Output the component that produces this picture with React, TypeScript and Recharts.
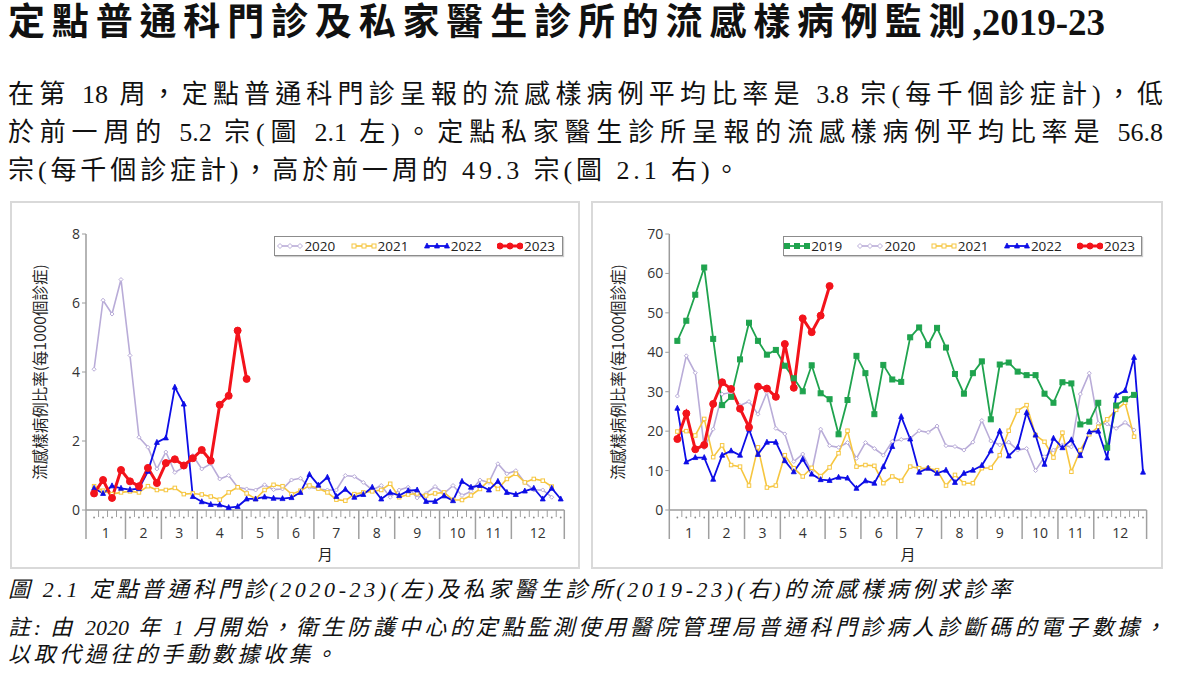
import React from 'react';
import { LineChart, Line, XAxis, YAxis } from 'recharts';

// ---------- categories / ticks ----------
const weeks = [1,2,3,4,5,6,7,8,9,10,11,12,13,14,15,16,17,18,19,20,21,22,23,24,25,26,27,28,29,30,31,32,33,34,35,36,37,38,39,40,41,42,43,44,45,46,47,48,49,50,51,52,53];
const monthLabels = ['1','2','3','4','5','6','7','8','9','10','11','12'];
const monthBounds = [0.1, 4.5, 8.5, 12.5, 17.5, 21.5, 25.5, 30.5, 34.5, 39.5, 43.5, 47.5, 53.4];
const gopYTicks = [0, 2, 4, 6, 8];
const pmpYTicks = [0, 10, 20, 30, 40, 50, 60, 70];

// ---------- GOPC (left) ----------
const gop2020 = [4.08,6.08,5.68,6.68,4.48,2.11,1.82,1.19,1.68,1.09,1.24,1.58,1.19,1.34,0.90,1.00,0.66,0.61,0.58,0.73,0.59,0.61,0.87,0.92,0.66,0.61,0.58,0.58,1.00,0.97,0.80,0.58,0.71,0.37,0.58,0.66,0.35,0.48,0.68,0.48,0.71,0.42,0.54,0.87,0.80,1.34,1.05,1.14,0.80,0.58,0.58,0.37];
const gop2021 = [0.69,0.56,0.46,0.51,0.54,0.51,0.69,0.58,0.58,0.64,0.46,0.48,0.45,0.39,0.30,0.51,0.66,0.48,0.32,0.58,0.73,0.69,0.46,0.56,0.71,0.62,0.51,0.30,0.27,0.46,0.51,0.54,0.58,0.76,0.37,0.45,0.48,0.42,0.48,0.51,0.29,0.29,0.42,0.61,0.85,0.61,0.90,1.05,0.80,0.90,0.85,0.68];
const gop2022 = [0.63,0.48,0.70,0.63,0.59,0.62,1.12,1.96,2.09,3.56,3.07,0.39,0.24,0.16,0.15,0.07,0.10,0.32,0.32,0.38,0.34,0.33,0.36,0.51,1.03,0.72,0.95,0.39,0.60,0.37,0.45,0.66,0.32,0.51,0.42,0.56,0.58,0.25,0.25,0.41,0.27,0.83,0.66,0.71,0.58,0.83,0.51,0.45,0.55,0.63,0.32,0.63,0.32];
const gop2023 = [0.48,0.87,0.35,1.16,0.83,0.69,1.22,0.78,1.36,1.47,1.29,1.50,1.74,1.43,3.05,3.31,5.2,3.8];

// ---------- Private medical practitioners (right) ----------
const pmp2019 = [42.9,48.0,54.6,61.5,43.4,26.6,28.7,38.2,47.5,42.9,39.4,40.6,36.6,33.4,30.1,36.7,29.6,28.1,19.2,27.9,39.1,34.7,24.3,36.8,33.1,32.5,43.8,46.3,41.8,46.2,41.2,34.5,29.5,34.7,37.7,23.0,36.9,37.4,35.1,34.2,34.2,29.5,27.2,32.4,32.1,21.7,22.4,27.2,15.8,26.5,28.1,29.2];
const pmp2020 = [28.9,39.1,34.8,15.8,20.5,29.4,29.8,26.5,27.5,24.3,29.8,20.7,19.3,12.3,14.2,9.7,20.5,16.3,15.9,17.1,13.1,17.1,15.6,13.9,17.4,17.9,18.2,20.1,19.7,21.3,16.3,16.1,15.2,17.2,22.7,17.5,16.5,17.2,15.2,15.6,10.0,13.5,15.2,16.5,16.0,29.4,34.7,22.0,21.8,20.7,22.2,20.3];
const pmp2021 = [19.9,20.0,18.9,23.1,13.4,16.4,11.4,11.0,6.2,15.9,5.7,6.2,13.9,10.6,8.5,10.7,8.6,10.8,14.4,20.1,11.0,11.4,11.2,6.8,8.5,7.4,11.0,10.6,10.6,10.1,6.2,8.9,6.8,6.8,10.6,10.7,13.9,20.1,25.2,26.6,19.0,17.3,13.3,19.6,9.7,15.2,19.2,21.1,23.0,25.4,27.2,18.6];
const pmp2022 = [25.8,12.2,13.3,13.3,7.8,13.9,15.0,13.9,20.5,14.1,17.2,17.2,12.5,9.7,12.9,9.1,7.7,7.5,8.3,8.1,5.5,7.4,6.8,11.0,16.1,23.7,18.0,9.6,10.6,9.3,10.1,7.0,9.3,10.1,11.3,15.0,20.0,13.7,15.9,24.7,19.0,11.6,18.2,15.8,17.8,13.8,19.8,20.0,13.2,29.0,30.3,38.7,9.6];
const pmp2023 = [18.0,24.5,15.4,16.5,26.9,32.4,30.7,25.7,21.0,31.3,30.8,28.7,42.1,31.0,48.6,45.1,49.3,56.8];

// ---------- texts ----------
const titleText = '定點普通科門診及私家醫生診所的流感樣病例監測,2019-23';
const paraLines = [
  '在第 18 周，定點普通科門診呈報的流感樣病例平均比率是 3.8 宗(每千個診症計)，低',
  '於前一周的 5.2 宗(圖 2.1 左)。定點私家醫生診所呈報的流感樣病例平均比率是 56.8',
  '宗(每千個診症計)，高於前一周的 49.3 宗(圖 2.1 右)。',
];
const captionText = '圖 2.1 定點普通科門診(2020-23)(左)及私家醫生診所(2019-23)(右)的流感樣病例求診率';
const noteLines = [
  '註: 由 2020 年 1 月開始，衛生防護中心的定點監測使用醫院管理局普通科門診病人診斷碼的電子數據，',
  '以取代過往的手動數據收集。',
];
const yLabel = '流感樣病例比率(每1000個診症)';
const xLabel = '月';

// ---------- styles ----------
const cjk = '"Noto Sans CJK TC", "Noto Sans CJK SC", sans-serif';
const bodyFont = '"Liberation Serif", "Noto Sans CJK TC", "Noto Sans CJK SC", serif';
const latin = '"Open Sans", "DejaVu Sans", sans-serif';
type Shape = 'square' | 'diamond' | 'triangle' | 'circle';
const yearStyle: Record<string, { color: string; width: number; shape: Shape; size: number; filled: boolean }> = {
  '2019': { color: '#1fa34e', width: 1.8, shape: 'square', size: 5, filled: true },
  '2020': { color: '#b9acd8', width: 1.6, shape: 'diamond', size: 3, filled: false },
  '2021': { color: '#f6c640', width: 1.6, shape: 'square', size: 3.5, filled: false },
  '2022': { color: '#0d0de6', width: 1.8, shape: 'triangle', size: 5, filled: true },
  '2023': { color: '#f3131b', width: 3, shape: 'circle', size: 7, filled: true },
};

function markerEl(shape: Shape, cx: number, cy: number, size: number, color: string, filled: boolean, key?: any) {
  const fill = filled ? color : '#ffffff';
  const h = size / 2;
  if (shape === 'square') return <rect key={key} x={cx - h} y={cy - h} width={size} height={size} fill={fill} stroke={color} strokeWidth={1} />;
  if (shape === 'diamond') return <polygon key={key} points={`${cx},${cy - h - 0.5} ${cx + h + 0.5},${cy} ${cx},${cy + h + 0.5} ${cx - h - 0.5},${cy}`} fill={fill} stroke={color} strokeWidth={1} />;
  if (shape === 'triangle') return <polygon key={key} points={`${cx},${cy - h - 0.5} ${cx + h},${cy + h - 0.5} ${cx - h},${cy + h - 0.5}`} fill={fill} stroke={color} strokeWidth={0.8} />;
  return <circle key={key} cx={cx} cy={cy} r={h} fill={fill} stroke={color} strokeWidth={1} />;
}

function makeDot(year: string) {
  const s = yearStyle[year];
  return (p: any) => {
    const { cx, cy, index } = p;
    if (cx == null || cy == null || Number.isNaN(cy)) return <g key={`e${index}`} />;
    return markerEl(s.shape, cx, cy, s.size, s.color, s.filled, `d${index}`);
  };
}

// ---------- x-axis tick table ----------
type TickInfo = { kind: 'dot' | 'tick' | 'sep' | 'label'; text?: string };
const tickInfo = new Map<string, TickInfo>();
const xTickValues: number[] = [];
function addTick(v: number, info: TickInfo) {
  tickInfo.set(v.toFixed(4), info);
  xTickValues.push(v);
}
weeks.forEach((w) => addTick(w, { kind: 'dot' }));
for (let i = 0; i < weeks.length - 1; i++) {
  const b = weeks[i] + 0.5;
  addTick(b, { kind: monthBounds.includes(b) ? 'sep' : 'tick' });
}
addTick(monthBounds[0], { kind: 'sep' });
addTick(monthBounds[monthBounds.length - 1], { kind: 'sep' });
monthLabels.forEach((m, i) => addTick((monthBounds[i] + monthBounds[i + 1]) / 2 + 0.0003, { kind: 'label', text: m }));

function WeekTick(props: any) {
  const { x, y, payload } = props;
  const info = tickInfo.get(Number(payload.value).toFixed(4));
  if (!info) return <g />;
  if (info.kind === 'dot') return <circle cx={x} cy={y + 7.5} r={0.9} fill="#8a8a8a" />;
  if (info.kind === 'tick') return <line x1={x} x2={x} y1={y} y2={y + 7} stroke="#a0a0a0" strokeWidth={1} />;
  if (info.kind === 'sep') return <line x1={x} x2={x} y1={y} y2={y + 29} stroke="#a0a0a0" strokeWidth={1.5} />;
  return (
    <text x={x} y={y + 27.5} textAnchor="middle" fontSize={14} fill="#333" fontFamily={latin}>
      {info.text}
    </text>
  );
}

function buildRows(series: { year: string; values: number[] }[]) {
  return weeks.map((w, i) => {
    const row: any = { week: w };
    series.forEach((s) => {
      if (i < s.values.length) row['y' + s.year] = s.values[i];
    });
    return row;
  });
}

const gopSeries = [
  { year: '2020', values: gop2020 },
  { year: '2021', values: gop2021 },
  { year: '2022', values: gop2022 },
  { year: '2023', values: gop2023 },
];
const pmpSeries = [
  { year: '2019', values: pmp2019 },
  { year: '2020', values: pmp2020 },
  { year: '2021', values: pmp2021 },
  { year: '2022', values: pmp2022 },
  { year: '2023', values: pmp2023 },
];
const pmpDrawOrder = ['2020', '2021', '2019', '2022', '2023'];

const axisStroke = { stroke: '#9c9c9c', strokeWidth: 1.5 };

function Panel(props: {
  left: number; width: number; series: { year: string; values: number[] }[]; order: string[];
  yMax: number; yTicks: number[]; marginLeft: number; marginRight: number; labelOffset: number;
}) {
  const { left, width, series, order, yMax, yTicks, marginLeft, marginRight, labelOffset } = props;
  const rows = buildRows(series);
  return (
    <>
      <div style={{ position: 'absolute', left, top: 201, width, height: 368, boxSizing: 'border-box', border: '2px solid #d9d9d9' }} />
      <div style={{ position: 'absolute', left, top: 201 }}>
        <LineChart width={width} height={368} data={rows} margin={{ top: 33, right: marginRight, bottom: 7, left: marginLeft }}>
          <XAxis
            dataKey="week"
            type="number"
            domain={[monthBounds[0], monthBounds[monthBounds.length - 1]]}
            ticks={xTickValues}
            interval={0}
            tickSize={0}
            tickMargin={0}
            tickLine={false}
            axisLine={axisStroke}
            height={52}
            tick={WeekTick}
            allowDataOverflow
            label={{ value: xLabel, position: 'insideBottom', offset: 2, style: { fontSize: 15, fill: '#222', fontFamily: cjk } }}
          />
          <YAxis
            type="number"
            domain={[0, yMax]}
            ticks={yTicks}
            interval={0}
            width={60}
            tickSize={4}
            tickMargin={2}
            axisLine={axisStroke}
            tickLine={{ stroke: '#9c9c9c' }}
            tick={{ fill: '#333', fontSize: 14, fontFamily: latin }}
            label={{ value: yLabel, angle: -90, position: 'insideLeft', offset: labelOffset, style: { textAnchor: 'middle', fontSize: 15.5, fill: '#222', fontFamily: cjk } }}
          />
          {order.map((yr) => {
            const s = yearStyle[yr];
            return (
              <Line
                key={yr}
                type="linear"
                dataKey={'y' + yr}
                name={yr}
                stroke={s.color}
                strokeWidth={s.width}
                dot={makeDot(yr)}
                activeDot={false}
                isAnimationActive={false}
                connectNulls={false}
              />
            );
          })}
        </LineChart>
      </div>
    </>
  );
}

function LegendBox(props: { left: number; width: number; firstItem: number; years: string[] }) {
  const { left, width, firstItem, years } = props;
  return (
    <div style={{ position: 'absolute', left, top: 236, width, height: 20, boxSizing: 'border-box', border: '1px solid #8c8c8c', background: '#fff', boxShadow: '1px 1px 1px #ccc' }}>
      {years.map((yr, i) => {
        const s = yearStyle[yr];
        const x0 = firstItem - left + i * 73.2;
        return (
          <div key={yr} style={{ position: 'absolute', left: x0 - 1, top: 0, height: 18, display: 'flex', alignItems: 'center' }}>
            <svg width={26} height={18} style={{ display: 'block' }}>
              <line x1={2} x2={24} y1={9} y2={9} stroke={s.color} strokeWidth={s.width} />
              {[3, 13, 23].map((cx, j) => markerEl(s.shape, cx, 9, s.shape === 'circle' ? 6 : Math.max(s.size, 4), s.color, s.filled, j))}
            </svg>
            <span style={{ fontFamily: latin, fontSize: 13.5, color: '#222', marginLeft: 1, lineHeight: '18px' }}>{yr}</span>
          </div>
        );
      })}
    </div>
  );
}

function TextLine(props: { text: string; top: number; size: number; lh: number; width?: number; justify?: boolean; spacing?: number; italic?: boolean; bold?: boolean }) {
  const { text, top, size, lh, width, justify, spacing, italic, bold } = props;
  return (
    <div
      style={{
        position: 'absolute', left: 8, top, width: width ?? 'auto', whiteSpace: justify ? 'normal' : 'nowrap',
        fontFamily: bodyFont, fontSize: size, lineHeight: `${lh}px`, color: '#111',
        textAlign: justify ? 'justify' : 'left', textAlignLast: justify ? 'justify' : 'auto',
        letterSpacing: spacing ? `${spacing}px` : 'normal', fontStyle: italic ? 'italic' : 'normal', fontWeight: bold ? 700 : 400,
      } as React.CSSProperties}
    >
      {text}
    </div>
  );
}

export default function App() {
  return (
    <div style={{ position: 'absolute', left: 0, top: 0, width: 1179, height: 679, background: '#fff', overflow: 'hidden' }}>
      <TextLine text={titleText} top={3} size={37} lh={40} width={1097} justify bold />
      <TextLine text={paraLines[0]} top={80} size={26} lh={30} width={1155} justify />
      <TextLine text={paraLines[1]} top={118} size={26} lh={30} width={1155} justify />
      <TextLine text={paraLines[2]} top={156} size={26} lh={30} spacing={3.9} />

      <Panel left={10} width={570} series={gopSeries} order={['2020', '2021', '2022', '2023']} yMax={8} yTicks={gopYTicks} marginLeft={16} marginRight={15.7} labelOffset={14} />
      <Panel left={591} width={572} series={pmpSeries} order={pmpDrawOrder} yMax={70} yTicks={pmpYTicks} marginLeft={18.3} marginRight={16.4} labelOffset={9} />

      <LegendBox left={274.3} width={288.4} firstItem={277.4} years={['2020', '2021', '2022', '2023']} />
      <LegendBox left={782.7} width={359.6} firstItem={784.3} years={['2019', '2020', '2021', '2022', '2023']} />

      <TextLine text={captionText} top={577} size={22} lh={26} spacing={3.6} italic />
      <TextLine text={noteLines[0]} top={615} size={22} lh={26} width={1157} justify italic />
      <TextLine text={noteLines[1]} top={642} size={22} lh={26} spacing={3.5} italic />
    </div>
  );
}
